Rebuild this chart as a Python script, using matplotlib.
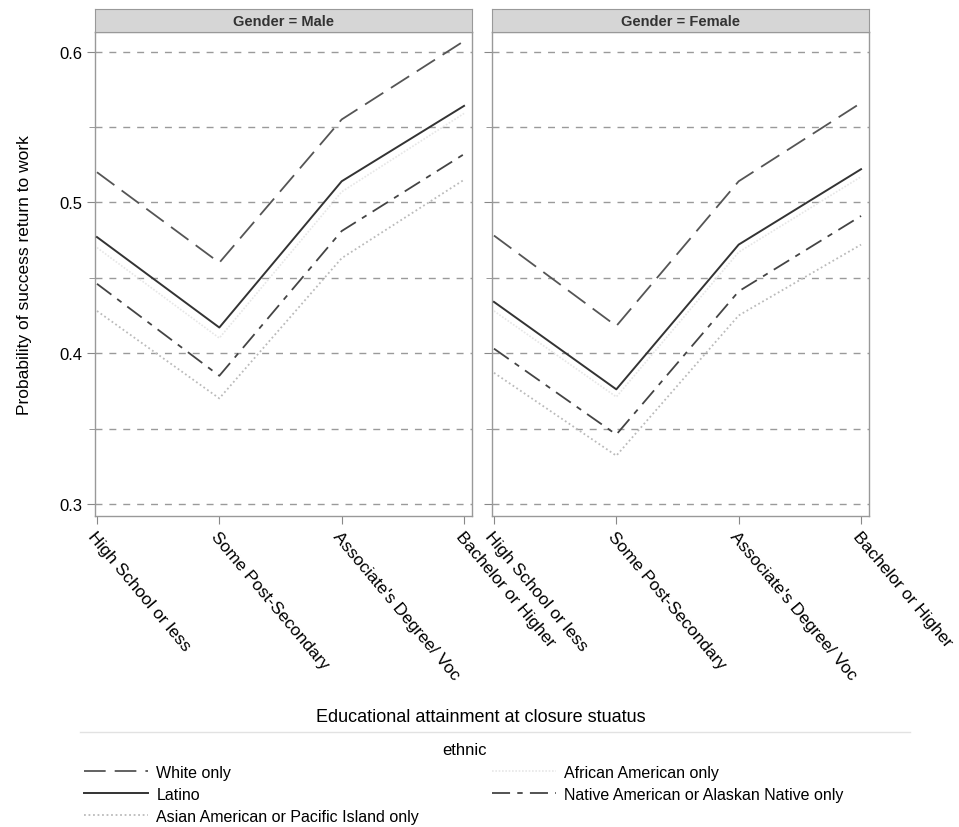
import matplotlib
matplotlib.use("Agg")
import matplotlib.pyplot as plt
import numpy as np

plt.rcParams['font.family'] = ['Liberation Sans', 'DejaVu Sans']

education = ["High School or less", "Some Post-Secondary",
             "Associate's Degree/ Voc", "Bachelor or Higher"]

# predicted probabilities
male_white = [0.520, 0.460, 0.555, 0.607]
male_african = [0.470, 0.410, 0.507, 0.559]
male_latino = [0.477, 0.417, 0.514, 0.564]
male_native = [0.446, 0.385, 0.481, 0.532]
male_asian = [0.428, 0.370, 0.463, 0.515]

female_white = [0.478, 0.418, 0.514, 0.566]
female_african = [0.428, 0.371, 0.467, 0.517]
female_latino = [0.434, 0.376, 0.472, 0.522]
female_native = [0.403, 0.346, 0.441, 0.491]
female_asian = [0.387, 0.332, 0.425, 0.472]

panels = ["Gender = Male", "Gender = Female"]

styles = {
    "White only": dict(color="#555555", ls=(0, (12, 5)), lw=1.3),
    "Latino": dict(color="#333333", ls="-", lw=1.4),
    "Asian American or Pacific Island only": dict(color="#bbbbbb", ls=(0, (1, 1.5)), lw=1.3),
    "African American only": dict(color="#e6e6e6", ls=(0, (1, 1)), lw=1.2),
    "Native American or Alaskan Native only": dict(color="#444444", ls=(0, (10, 4, 3, 4)), lw=1.3),
}

data = {
    "Gender = Male": {"White only": male_white, "Latino": male_latino,
                      "Asian American or Pacific Island only": male_asian,
                      "African American only": male_african,
                      "Native American or Alaskan Native only": male_native},
    "Gender = Female": {"White only": female_white, "Latino": female_latino,
                        "Asian American or Pacific Island only": female_asian,
                        "African American only": female_african,
                        "Native American or Alaskan Native only": female_native},
}

fig = plt.figure(figsize=(9.59, 8.28), dpi=100)
W, H = 959, 828
x = np.arange(len(education))

lefts = [95, 492]
width = 377
top, bottom = 33, 517

for i, panel in enumerate(panels):
    ax = fig.add_axes([lefts[i] / W, 1 - bottom / H, width / W, (bottom - top) / H])
    for y in np.arange(0.30, 0.601, 0.05):
        ax.axhline(y, color="#9a9a9a", ls=(0, (5, 5)), lw=1.0, zorder=1)
    for name, vals in data[panel].items():
        ax.plot(x, vals, label=name, zorder=3, **styles[name])
    ax.set_xlim(-0.016, 3.065)
    ax.set_ylim(0.292, 0.613)
    ax.set_xticks(x)
    ax.set_xticklabels(education, rotation=-50, ha="left", va="top",
                       rotation_mode="anchor", fontsize=12.5)
    ax.set_yticks([0.3, 0.4, 0.5, 0.6])
    ax.set_yticks([0.35, 0.45, 0.55], minor=True)
    ax.tick_params(axis="both", direction="out", length=6, color="#888888", pad=3)
    ax.tick_params(axis="y", which="minor", length=4, color="#888888")
    if i == 0:
        ax.set_yticklabels(["0.3", "0.4", "0.5", "0.6"], fontsize=12)
        ax.set_ylabel("Probability of success return to work", fontsize=12.5, labelpad=20)
    else:
        ax.set_yticklabels([])
    for s in ax.spines.values():
        s.set_color("#999999")
        s.set_linewidth(1.0)

    # header strip
    sax = fig.add_axes([lefts[i] / W, 1 - top / H, width / W, 23 / H])
    sax.set_facecolor("#d6d6d6")
    sax.set_xticks([])
    sax.set_yticks([])
    for s in sax.spines.values():
        s.set_color("#999999")
    sax.text(0.5, 0.5, panel, ha="center", va="center", fontsize=10.5,
             fontweight="bold", color="#333333", transform=sax.transAxes)
    if i == 0:
        handles, labels = ax.get_legend_handles_labels()

fig.text(481 / W, 1 - 718 / H, "Educational attainment at closure stuatus",
         ha="center", va="center", fontsize=13)

fig.add_artist(plt.Line2D([80 / W, 910 / W], [1 - 733 / H, 1 - 733 / H],
                          color="#e2e2e2", lw=1.0))

fig.legend(handles, labels, ncol=2, loc="upper left",
           bbox_to_anchor=(78 / W, 1 - 737 / H), title="ethnic",
           title_fontsize=12, fontsize=11.5, frameon=False,
           handlelength=4.0, columnspacing=4.6, labelspacing=0.45,
           handletextpad=0.5, borderaxespad=0)

fig.savefig("out.png", dpi=100)
